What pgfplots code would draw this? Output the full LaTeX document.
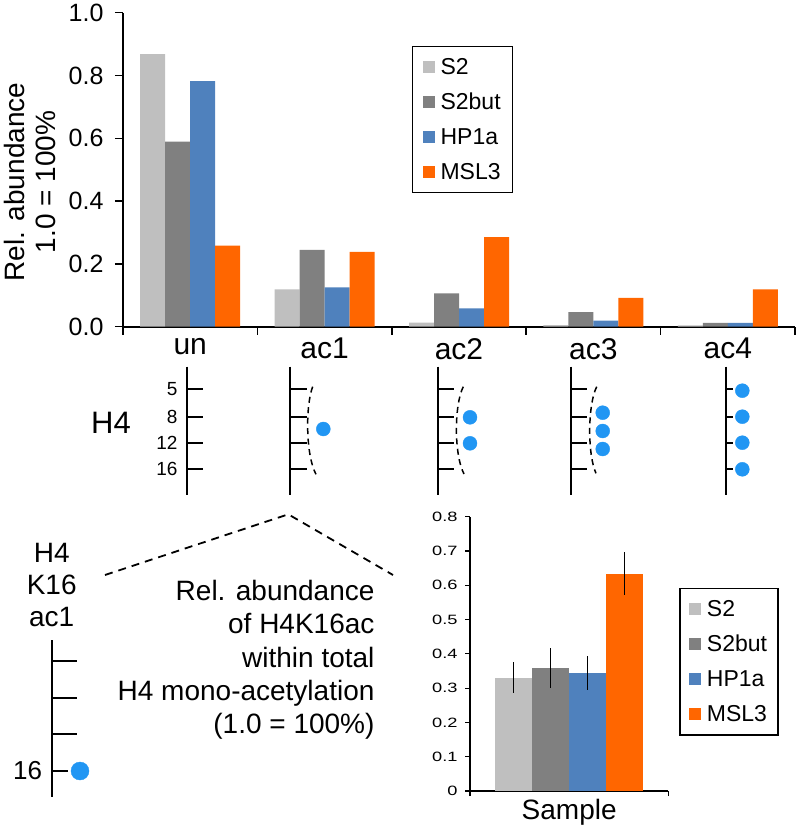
\documentclass[border=0pt]{standalone}
\usepackage{fontspec}
\setmainfont{Liberation Sans}
\newfontfamily\widefont[FakeStretch=1.35]{Liberation Sans}
\usepackage{pgfplots}
\pgfplotsset{compat=1.18}
\newcommand\fsz[2]{\fontsize{#1bp}{#2bp}\selectfont}
\definecolor{cS2}{RGB}{191,191,191}
\definecolor{cS2but}{RGB}{128,128,128}
\definecolor{cHP}{RGB}{79,129,189}
\definecolor{cMSL}{RGB}{255,102,0}
\definecolor{dotblue}{RGB}{33,150,243}
\pgfplotsset{
  barlegend/.style={legend image code/.code={\fill[##1] (0bp,-6bp) rectangle (12bp,6bp);}},
  noarrows/.style={axis line style={-}, every outer x axis line/.append style={-}, every outer y axis line/.append style={-}},
}
\begin{document}
\begin{tikzpicture}
\useasboundingbox (0,0) rectangle (799bp,828bp);
% ---------------- top chart ----------------
\begin{axis}[
  at={(123bp,501.3bp)}, anchor=south west,
  scale only axis, width=672bp, height=314bp,
  xmin=-0.5, xmax=4.5, ymin=0, ymax=1,
  axis x line*=bottom, axis y line*=left, noarrows,
  axis line style={line width=1.8bp, black},
  ybar=0pt, bar width=25bp,
  ytick={0,0.2,0.4,0.6,0.8,1.0},
  yticklabel style={font=\fsz{25}{29}, xshift=-8bp, /pgf/number format/fixed, /pgf/number format/fixed zerofill, /pgf/number format/precision=1, /pgf/number format/assume math mode=true},
  xtick={-0.5,0.5,1.5,2.5,3.5,4.5},
  xticklabels={un,ac1,ac2,ac3,ac4},
  x tick label as interval,
  xticklabel style={font=\fsz{30}{34}},
  tick align=outside, major tick length=8bp,
  tick style={black, line width=1.5bp},
  barlegend,
  legend style={at={(0.430,0.894)}, anchor=north west, draw=black, line width=1.2bp,
    font=\fsz{23}{26}, row sep=0bp, inner xsep=10bp, inner ysep=3bp,
    nodes={minimum height=35bp, inner sep=2bp},
    /tikz/every odd column/.style={column sep=4bp}},
  legend cell align=left,
]
\addplot[fill=cS2, draw=none] coordinates {(0,0.868) (1,0.119) (2,0.013) (3,0.005) (4,0.004)};
\addplot[fill=cS2but, draw=none] coordinates {(0,0.589) (1,0.245) (2,0.106) (3,0.046) (4,0.012)};
\addplot[fill=cHP, draw=none] coordinates {(0,0.782) (1,0.125) (2,0.058) (3,0.019) (4,0.012)};
\addplot[fill=cMSL, draw=none] coordinates {(0,0.258) (1,0.238) (2,0.285) (3,0.092) (4,0.119)};
\legend{S2,S2but,HP1a,MSL3}
\end{axis}
% ---------------- bottom chart ----------------
\begin{axis}[
  at={(470bp,37bp)}, anchor=south west,
  scale only axis, width=198.3bp, height=274.3bp,
  xmin=-1, xmax=1, ymin=0, ymax=0.8,
  axis x line*=bottom, axis y line*=left, noarrows,
  axis line style={line width=1.5bp, black},
  ybar=0pt, bar width=37bp,
  ytick={0,0.1,0.2,0.3,0.4,0.5,0.6,0.7,0.8},
  yticklabel style={font=\widefont\fsz{13.5}{15}, xshift=-4bp, /pgf/number format/assume math mode=true},
  xtick={-1,1}, xticklabels={Sample}, x tick label as interval,
  xticklabel style={font=\fsz{28}{32}},
  tick align=outside, major tick length=5bp,
  tick style={black, line width=1.2bp},
  barlegend,
  legend style={at={(1.0555,0.739)}, anchor=north west, draw=black, line width=1.2bp,
    font=\fsz{23}{26}, row sep=0bp, inner xsep=9bp, inner ysep=3bp,
    nodes={minimum height=35bp, inner sep=2bp},
    /tikz/every odd column/.style={column sep=4bp}},
  legend cell align=left,
]
\addplot[fill=cS2, draw=none, error bars/.cd, y dir=both, y explicit, error mark=none,
  error bar style={draw=black, line width=1.6bp}] coordinates {(0,0.330) +- (0,0.045)};
\addplot[fill=cS2but, draw=none, error bars/.cd, y dir=both, y explicit, error mark=none,
  error bar style={draw=black, line width=1.6bp}] coordinates {(0,0.358) +- (0,0.058)};
\addplot[fill=cHP, draw=none, error bars/.cd, y dir=both, y explicit, error mark=none,
  error bar style={draw=black, line width=1.6bp}] coordinates {(0,0.344) +- (0,0.049)};
\addplot[fill=cMSL, draw=none, error bars/.cd, y dir=both, y explicit, error mark=none,
  error bar style={draw=black, line width=1.6bp}] coordinates {(0,0.634) +- (0,0.062)};
\legend{S2,S2but,HP1a,MSL3}
\end{axis}
% ---------------- overlay schematic (pixel coordinates) ----------------
\begin{axis}[
  at={(0bp,0bp)}, anchor=south west,
  scale only axis, width=799bp, height=828bp,
  xmin=0, xmax=799, ymin=0, ymax=828, y dir=reverse,
  hide axis, clip=false,
]
% y label of top chart
\node[rotate=90, align=center, font=\fsz{28}{31}] at (axis cs:30,182) {Rel. abundance\\1.0 = 100\%};
% H4 label
\node[font=\fsz{31}{34}] at (axis cs:111,423) {H4};
% residue numbers
\node[anchor=east, font=\fsz{19}{22}] at (axis cs:181,389.3) {5};
\node[anchor=east, font=\fsz{19}{22}] at (axis cs:181,416.7) {8};
\node[anchor=east, font=\fsz{19}{22}] at (axis cs:181,443.3) {12};
\node[anchor=east, font=\fsz{19}{22}] at (axis cs:181,469.3) {16};
% column lines and ticks
\draw[line width=2bp] (axis cs:186.7,366.7) -- (axis cs:186.7,495);
\draw[line width=2bp] (axis cs:186.7,389.3) -- (axis cs:202.7,389.3) (axis cs:186.7,416.7) -- (axis cs:202.7,416.7) (axis cs:186.7,443.3) -- (axis cs:202.7,443.3) (axis cs:186.7,469.3) -- (axis cs:202.7,469.3);
\draw[line width=2bp] (axis cs:290.3,366.7) -- (axis cs:290.3,495);
\draw[line width=2bp] (axis cs:290.3,389.3) -- (axis cs:306.7,389.3) (axis cs:290.3,416.7) -- (axis cs:306.7,416.7) (axis cs:290.3,443.3) -- (axis cs:306.7,443.3) (axis cs:290.3,469.3) -- (axis cs:306.7,469.3);
\draw[line width=2bp] (axis cs:437.7,366.7) -- (axis cs:437.7,495);
\draw[line width=2bp] (axis cs:437.7,389.3) -- (axis cs:454,389.3) (axis cs:437.7,416.7) -- (axis cs:454,416.7) (axis cs:437.7,443.3) -- (axis cs:454,443.3) (axis cs:437.7,469.3) -- (axis cs:454,469.3);
\draw[line width=2bp] (axis cs:571,366.7) -- (axis cs:571,495);
\draw[line width=2bp] (axis cs:571,389.3) -- (axis cs:587.3,389.3) (axis cs:571,416.7) -- (axis cs:587.3,416.7) (axis cs:571,443.3) -- (axis cs:587.3,443.3) (axis cs:571,469.3) -- (axis cs:587.3,469.3);
\draw[line width=2bp] (axis cs:726,366.7) -- (axis cs:726,495);
\draw[line width=2bp] (axis cs:726,389.3) -- (axis cs:733.3,389.3) (axis cs:726,416.7) -- (axis cs:733.3,416.7) (axis cs:726,443.3) -- (axis cs:733.3,443.3) (axis cs:726,469.3) -- (axis cs:733.3,469.3);
% dashed brackets
\draw[line width=1.5bp, dash pattern=on 6bp off 4.5bp] (axis cs:312.7,386.7) .. controls (axis cs:305.5,405) and (axis cs:305.5,455) .. (axis cs:316,474.3);
\draw[line width=1.5bp, dash pattern=on 6bp off 4.5bp] (axis cs:463.3,386.7) .. controls (axis cs:454,405) and (axis cs:454,455) .. (axis cs:464,474);
\draw[line width=1.5bp, dash pattern=on 6bp off 4.5bp] (axis cs:596.7,386.7) .. controls (axis cs:587.5,405) and (axis cs:587.5,455) .. (axis cs:596,473.3);
% acetylation dots
\addplot[only marks, mark=*, mark size=7bp, color=dotblue] coordinates {
  (323.3,429)
  (470,417.3) (470,443.3)
  (602.7,412.7) (602.7,431) (602.7,449)
  (742.3,390.7) (742.3,416.7) (742.3,442.7) (742.3,469.3)};
% zoom dashed lines
\draw[line width=1.8bp, dash pattern=on 8bp off 6bp] (axis cs:105,575) -- (axis cs:288.3,514.3) -- (axis cs:393,575);
% H4 K16 ac1 schematic
\node[align=center, font=\fsz{28}{32}] at (axis cs:51.7,585) {H4\\K16\\ac1};
\draw[line width=2bp] (axis cs:51.7,640) -- (axis cs:51.7,796.7);
\draw[line width=2bp] (axis cs:51.7,661) -- (axis cs:76.7,661) (axis cs:51.7,697.7) -- (axis cs:76.7,697.7) (axis cs:51.7,734.3) -- (axis cs:76.7,734.3);
\draw[line width=2bp] (axis cs:51.7,771) -- (axis cs:68.3,771);
\node[anchor=east, font=\fsz{26}{28}] at (axis cs:45.5,771) {16};
\addplot[only marks, mark=*, mark size=9bp, color=dotblue] coordinates {(80,771)};
% description
\node[anchor=east, align=right, font=\fsz{28}{33.3}] at (axis cs:378,660) {Rel. abundance\\of H4K16ac\\within total\\H4 mono-acetylation\\(1.0 = 100\%)};
\end{axis}
\end{tikzpicture}
\end{document}
